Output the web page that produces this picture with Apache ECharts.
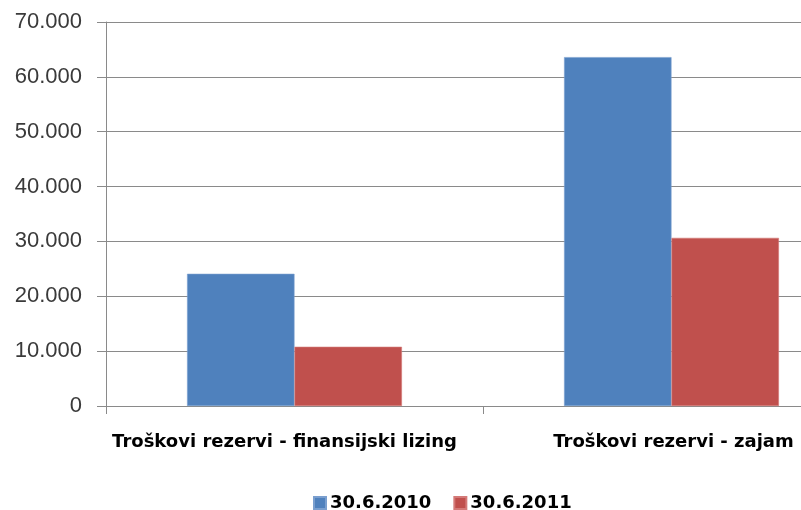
<!DOCTYPE html>
<html><head><meta charset="utf-8">
<script src="https://cdn.jsdelivr.net/npm/echarts@6/dist/echarts.min.js"></script>
<style>html,body{margin:0;padding:0;background:#fff;overflow:hidden;width:801px;height:510px}#c{width:860px;height:510px}</style>
</head><body><div id="c"></div>
<script>
const categories = ['Troškovi rezervi - finansijski lizing', 'Troškovi rezervi - zajam'];
const seriesNames = ['30.6.2010', '30.6.2011'];
const values2010 = [24100, 63600];
const values2011 = [10800, 30650];
const seriesColors = ['#4F81BD', '#C0504D'];

const chart = echarts.init(document.getElementById('c'), null, {renderer: 'canvas'});
chart.setOption({
  animation: false,
  backgroundColor: '#fff',
  grid: {left: 106, right: 0, top: 22, bottom: 104, containLabel: false},
  legend: {
    left: 308, top: 489,
    itemWidth: 12, itemHeight: 12, itemGap: 22,
    icon: 'rect',
    textStyle: {fontFamily: 'DejaVu Sans', fontWeight: 'bold', fontSize: 18, color: '#000', padding: [0,0,0,-1]},
    data: seriesNames
  },
  xAxis: {
    type: 'category',
    data: categories,
    axisLine: {lineStyle: {color: '#8a8a8a', width: 1}},
    axisTick: {show: true, alignWithLabel: false, length: 8, lineStyle: {color: '#8a8a8a'}},
    axisLabel: {interval: 0, margin: 27, fontFamily: 'DejaVu Sans', fontWeight: 'bold', fontSize: 18, color: '#000',
      formatter: (v, i) => i === 0 ? '{a|' + v + '}' : '{b|' + v + '}',
      rich: {
        a: {fontFamily: 'DejaVu Sans', fontWeight: 'bold', fontSize: 18, color: '#000', padding: [0, 20, 0, 0]},
        b: {fontFamily: 'DejaVu Sans', fontWeight: 'bold', fontSize: 18, color: '#000', padding: [0, 0, 0, 4]}
      }
    },
    splitLine: {show: false}
  },
  yAxis: {
    type: 'value', min: 0, max: 70000, interval: 10000,
    axisLine: {show: true, lineStyle: {color: '#8a8a8a', width: 1}},
    axisTick: {show: true, length: 9, lineStyle: {color: '#8a8a8a'}},
    axisLabel: {
      margin: 24, fontFamily: 'Liberation Sans', fontSize: 22, color: '#3a3a3a',
      formatter: v => v === 0 ? '0' : (v/1000).toFixed(0) + '.000'
    },
    splitLine: {show: true, lineStyle: {color: '#8a8a8a', width: 1}}
  },
  series: [
    {name: seriesNames[0], type: 'bar', data: values2010, barGap: '0%', barCategoryGap: '43%',
     itemStyle: {color: seriesColors[0], borderColor: '#7a9fcf', borderWidth: 0.6}},
    {name: seriesNames[1], type: 'bar', data: values2011, barGap: '0%', barCategoryGap: '43%',
     itemStyle: {color: seriesColors[1], borderColor: '#d47a78', borderWidth: 0.6}}
  ]
});
</script></body></html>
